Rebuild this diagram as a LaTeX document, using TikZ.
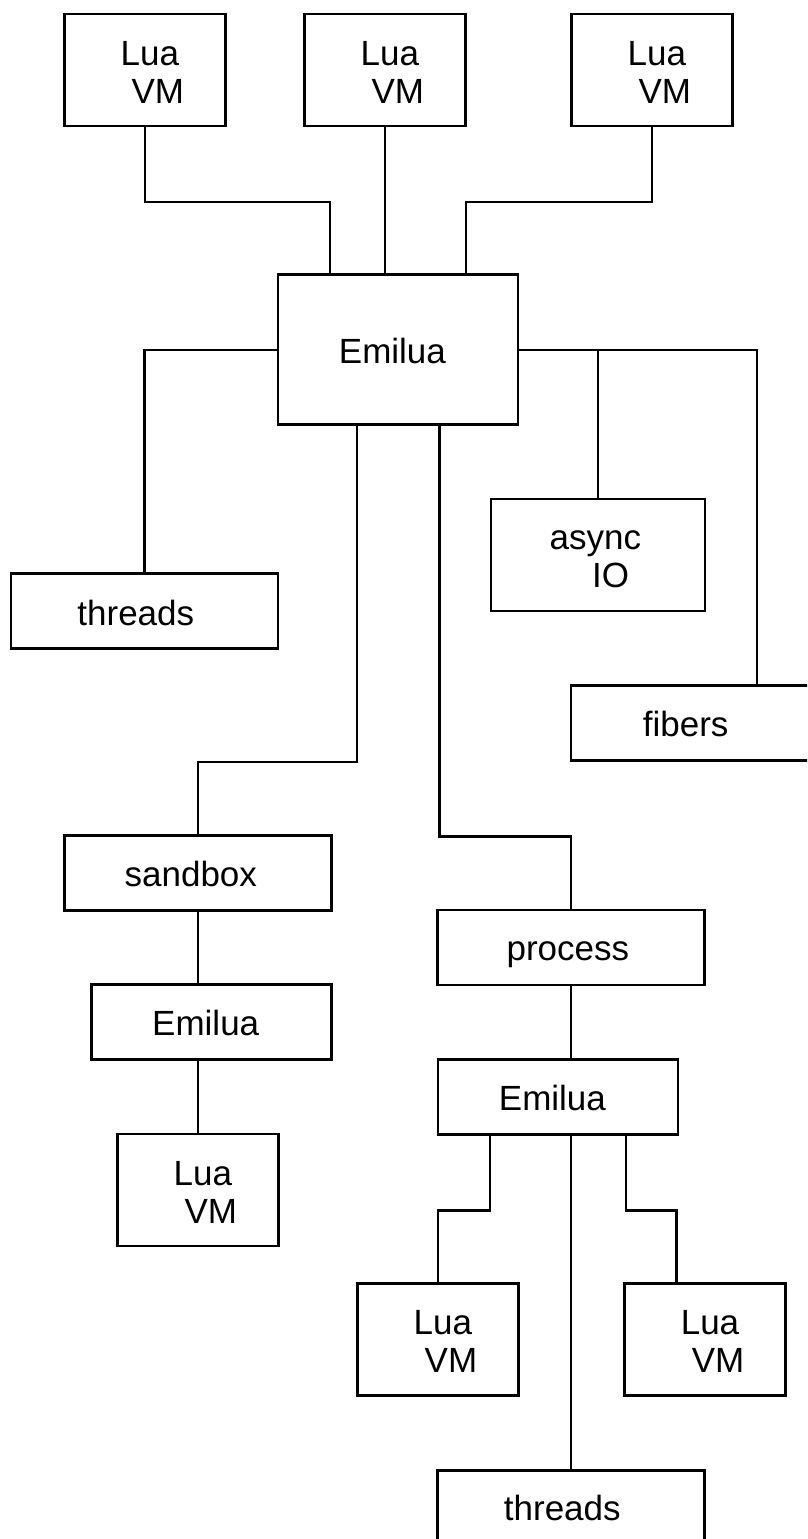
\documentclass[tikz,border=0pt]{standalone}
\usepackage{fontspec}
\setmainfont{Liberation Sans}
\usetikzlibrary{calc}
\begin{document}
\begin{tikzpicture}[x=1pt,y=1pt,
  box/.style={draw, line width=2.7pt, rectangle, inner sep=0pt},
  luabox/.style={box, minimum width=161pt, minimum height=112pt},
  widebox/.style={box, minimum width=267pt, minimum height=75pt},
  emibox/.style={box, minimum width=240pt, minimum height=75pt},
  wire/.style={line width=2.3pt, line join=miter},
  txt/.style={inner sep=0pt, anchor=base, font=\fontsize{35}{42}\selectfont}]
\fill[white] (0,0) rectangle (807,-1539);
\useasboundingbox (0,0) rectangle (807,-1539);
\clip (0,0) rectangle (807,-1539);

% boxes
\node[luabox] (lua1) at (144.8,-70) {};
\node[luabox] (lua2) at (384.8,-70) {};
\node[luabox] (lua3) at (651.8,-70) {};
\node[box, minimum width=240pt, minimum height=150pt] (emi) at (398,-349.75) {};
\node[widebox] (thr1) at (144.6,-611) {};
\node[box, minimum width=214pt, minimum height=112pt] (async) at (597.9,-555) {};
\node[widebox] (fib) at (704.5,-723) {};
\node[widebox] (sand) at (198,-872.7) {};
\node[widebox] (proc) at (571.3,-947.5) {};
\node[emibox] (emi2) at (211.3,-1022) {};
\node[emibox] (emi3) at (558,-1097) {};
\node[luabox] (lua4) at (197.9,-1190) {};
\node[luabox] (lua5) at (437.9,-1339.5) {};
\node[luabox] (lua6) at (705,-1339.5) {};
\node[widebox] (thr2) at (571.3,-1508) {};

% connectors
\draw[wire] (lua1.south) -- ++(0,-74.5) -| ($(emi.north west)+(53,0)$);
\draw[wire] (lua2.south) -- (lua2.south |- emi.north);
\draw[wire] (lua3.south) -- ++(0,-74.5) -| ($(emi.north east)+(-53.2,0)$);
\draw[wire] (emi.west) -| (thr1.north);
\draw[wire] (emi.east) -| ($(fib.north west)+(187,0)$);
\draw[wire] (emi.east -| async.north) -- (async.north);
\draw[wire] ($(emi.south west)+(80.3,0)$) -- ++(0,-335.8) -| (sand.north);
\draw[wire] ($(emi.south east)+(-80,0)$) -- ++(0,-410.5) -| (proc.north);
\draw[wire] (sand.south) -- (sand.south |- emi2.north);
\draw[wire] (emi2.south -| lua4.north) -- (lua4.north);
\draw[wire] (proc.south) -- (proc.south |- emi3.north);
\draw[wire] ($(emi3.south west)+(53.3,0)$) -- ++(0,-74.7) -| (lua5.north);
\draw[wire] (emi3.south -| thr2.north) -- (thr2.north);
\draw[wire] ($(emi3.south east)+(-53.3,0)$) -- ++(0,-74.7) -| ($(lua6.north west)+(53.3,0)$);

% texts
\foreach \n in {lua1,lua2,lua3,lua4,lua5,lua6}{
  \node[txt] (\n-a) at ($(\n.center)+(5,5)$) {Lua};
  \node[txt] (\n-b) at ($(\n.center)+(13,-33)$) {VM};
}
\node[txt] (emi-t) at ($(emi.center)+(-5.6,-13.3)$) {Emilua};
\node[txt] (emi2-t) at ($(emi2.center)+(-5.6,-13.8)$) {Emilua};
\node[txt] (emi3-t) at ($(emi3.center)+(-5.6,-13.7)$) {Emilua};
\node[txt] (thr1-t) at ($(thr1.center)+(-8.8,-14)$) {threads};
\node[txt] (thr2-t) at ($(thr2.center)+(-9,-12)$) {threads};
\node[txt] (sand-t) at ($(sand.center)+(-7.2,-13.3)$) {sandbox};
\node[txt] (proc-t) at ($(proc.center)+(-3.4,-13.2)$) {process};
\node[txt] (fib-t) at (685.7,-736.7) {fibers};
\node[txt] (async-a) at (595.3,-549) {async};
\node[txt] (async-b) at (610.7,-587.3) {IO};
\end{tikzpicture}
\end{document}
